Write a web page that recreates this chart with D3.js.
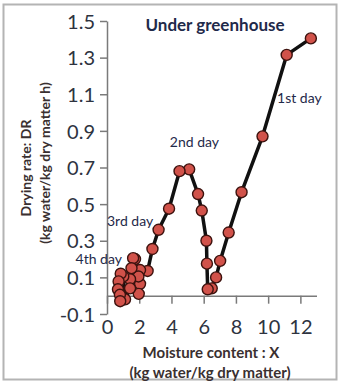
<!DOCTYPE html>
<html>
<head>
<meta charset="utf-8">
<script src="https://cdn.jsdelivr.net/npm/d3@7"></script>
<style>
  html, body { margin: 0; padding: 0; background: #fff; }
  svg { display: block; }
</style>
</head>
<body>
<svg id="chart" width="341" height="383"></svg>
<script>
// Moisture content X (kg water/kg dry matter), in drying order
const moisture = [
  12.65, 11.15, 9.65, 8.35, 7.55, 7.02, 6.77, 6.5, 6.25,
  6.2, 6.17, 5.88, 5.65, 5.1, 4.5, 3.85, 3.2, 2.82, 2.52, 2.05, 2.05, 1.97,
  1.95, 1.74, 1.62, 1.52, 1.43, 1.43, 1.12,
  1.01, 0.85, 0.72, 0.68, 0.8, 0.82
];
// Drying rate DR (kg water/kg dry matter h)
const dryingRate = [
  1.405, 1.315, 0.87, 0.565, 0.345, 0.19, 0.1, 0.04, 0.035,
  0.175, 0.3, 0.465, 0.555, 0.69, 0.68, 0.475, 0.36, 0.255, 0.135, 0.14, 0.065, 0.01,
  0.105, 0.2, 0.205, 0.15, 0.09, 0.04, -0.02,
  0.105, 0.12, 0.078, 0.035, 0.005, -0.03
];
const xTicks = [0, 2, 4, 6, 8, 10, 12];
const yTicks = [-0.1, 0.1, 0.3, 0.5, 0.7, 0.9, 1.1, 1.3, 1.5];
const yTickLabels = ["-0.1", "0.1", "0.3", "0.5", "0.7", "0.9", "1.1", "1.3", "1.5"];
const dayLabels = ["1st day", "2nd day", "3rd day", "4th day"];
const dayLabelX = [10.55, 3.9, 0.0, -1.95];
const dayLabelY = [1.08, 0.84, 0.405, 0.2];

const svg = d3.select("#chart");
const font = "Lato, 'Open Sans', sans-serif";

// outer frame
svg.append("rect")
  .attr("x", 3.5).attr("y", 4.5).attr("width", 333).attr("height", 375)
  .attr("fill", "none").attr("stroke", "#b4b4b4").attr("stroke-width", 2);

const x = d3.scaleLinear().domain([0, 13]).range([107, 316.5]);
const y = d3.scaleLinear().domain([-0.1, 1.5]).range([314, 21]);

const axisColor = "#7a7a7a";
const labelColor = "#2e3340";

// y axis
const yAxis = svg.append("g")
  .attr("transform", `translate(${x(0)},0)`)
  .call(d3.axisLeft(y).tickValues(yTicks).tickFormat((d, i) => yTickLabels[i])
    .tickSizeInner(7).tickSizeOuter(0).tickPadding(5));
yAxis.select(".domain").attr("stroke", axisColor).attr("stroke-width", 1.5);
yAxis.selectAll(".tick line").attr("stroke", axisColor).attr("stroke-width", 1.5);
yAxis.selectAll(".tick text")
  .attr("font-family", font).attr("font-size", 20).attr("fill", labelColor)
  .attr("dy", "0.36em");

// x axis along DR = 0, labels placed below the plot
const xAxis = svg.append("g")
  .attr("transform", `translate(0,${y(0)})`)
  .call(d3.axisBottom(x).tickValues(xTicks).tickFormat(d3.format("d"))
    .tickSizeInner(8).tickSizeOuter(0).tickPadding(0));
xAxis.select(".domain").attr("stroke", axisColor).attr("stroke-width", 1.5);
xAxis.selectAll(".tick line").attr("stroke", axisColor).attr("stroke-width", 1.5);
xAxis.selectAll(".tick text")
  .attr("font-family", font).attr("font-size", 20).attr("fill", labelColor)
  .attr("y", y(-0.1) - y(0) + 13).attr("dy", "0.36em");

// drying curve
const pts = moisture.map((m, i) => [m, dryingRate[i]]);
svg.append("path")
  .datum(pts)
  .attr("fill", "none").attr("stroke", "#111").attr("stroke-width", 3.5)
  .attr("stroke-linejoin", "round")
  .attr("d", d3.line().x(d => x(d[0])).y(d => y(d[1])));

svg.append("g").selectAll("circle")
  .data(pts).join("circle")
  .attr("cx", d => x(d[0])).attr("cy", d => y(d[1])).attr("r", 5.5)
  .attr("fill", "#d1524a").attr("stroke", "#3d120e").attr("stroke-width", 1.4);

// day annotations
svg.append("g").selectAll("text")
  .data(dayLabels).join("text")
  .attr("x", (d, i) => x(dayLabelX[i])).attr("y", (d, i) => y(dayLabelY[i]))
  .attr("dy", "0.35em")
  .attr("font-family", font).attr("font-size", 14).attr("fill", "#1f2a4a")
  .text(d => d);

// title
svg.append("text")
  .attr("x", 215).attr("y", 25).attr("dy", "0.35em").attr("text-anchor", "middle")
  .attr("font-family", font).attr("font-size", 17).attr("font-weight", "bold")
  .attr("fill", "#1f2a4a").text("Under greenhouse");

// axis titles
const titleColor = "#3a3030";
svg.append("text")
  .attr("x", 211).attr("y", 353).attr("dy", "0.35em").attr("text-anchor", "middle")
  .attr("font-family", font).attr("font-size", 15).attr("font-weight", "bold")
  .attr("fill", titleColor).text("Moisture content : X");
svg.append("text")
  .attr("x", 210).attr("y", 373).attr("dy", "0.35em").attr("text-anchor", "middle")
  .attr("font-family", font).attr("font-size", 15).attr("font-weight", "bold")
  .attr("fill", titleColor).text("(kg water/kg dry matter)");

svg.append("text")
  .attr("transform", "translate(26,168) rotate(-90)")
  .attr("dy", "0.35em").attr("text-anchor", "middle")
  .attr("font-family", font).attr("font-size", 14).attr("font-weight", "bold")
  .attr("fill", titleColor).text("Drying rate: DR");
svg.append("text")
  .attr("transform", "translate(45,163) rotate(-90)")
  .attr("dy", "0.35em").attr("text-anchor", "middle")
  .attr("font-family", font).attr("font-size", 14).attr("font-weight", "bold")
  .attr("fill", titleColor).text("(kg water/kg dry matter h)");
</script>
</body>
</html>
